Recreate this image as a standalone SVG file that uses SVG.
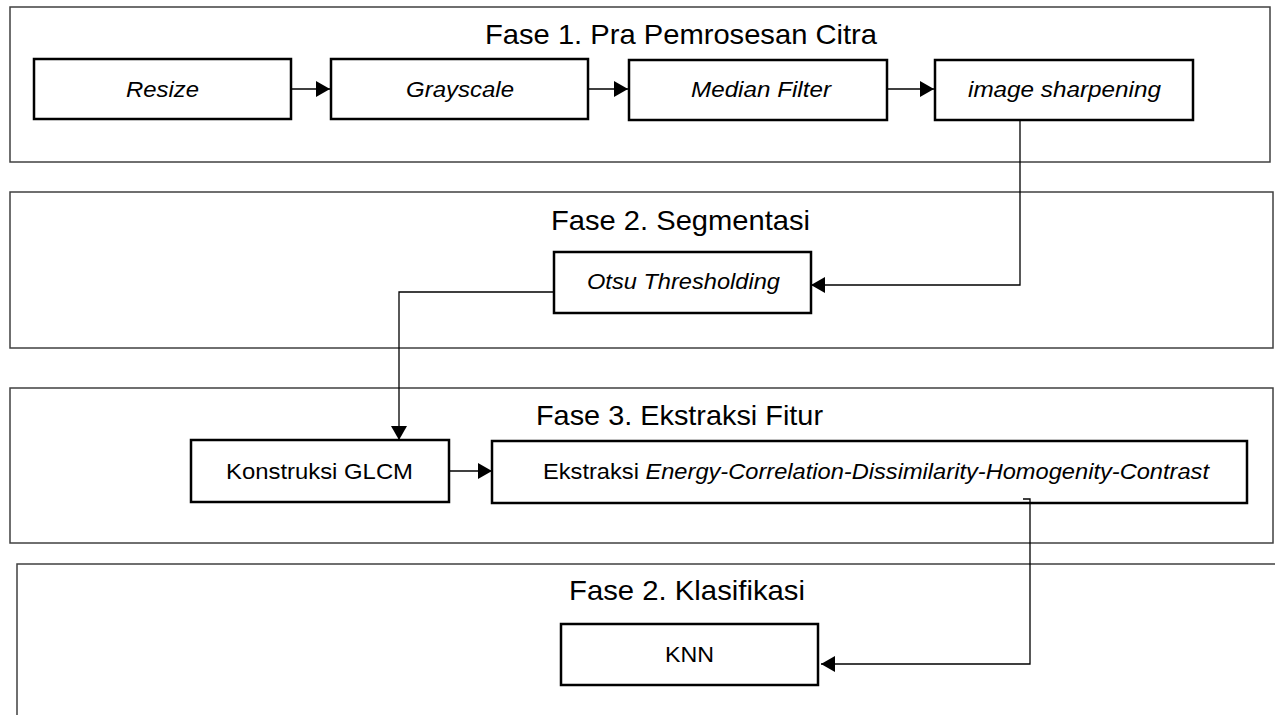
<svg xmlns="http://www.w3.org/2000/svg" width="1275" height="715" viewBox="0 0 1275 715">
<style>
.phase{fill:#fff;stroke:#404040;stroke-width:1.5}
.node{fill:#fff;stroke:#000;stroke-width:2.5}
.title{font-family:"Liberation Sans",Arial,sans-serif;font-size:28px;fill:#000}
.lbl{font-family:"Liberation Sans",Arial,sans-serif;font-size:22px;fill:#000}
.it{font-style:italic}
.conn{fill:none;stroke:#000;stroke-width:1.3}
</style>
<defs>
<marker id="ah" markerUnits="userSpaceOnUse" markerWidth="15" markerHeight="16" refX="14" refY="8" orient="auto">
<path d="M0,0 L14,8 L0,16 Z" fill="#000"/>
</marker>
</defs>
<g id="phase1">
<rect class="phase" x="10" y="7" width="1260" height="155"/>
<text class="title" x="485" y="44" textLength="392" lengthAdjust="spacingAndGlyphs">Fase 1. Pra Pemrosesan Citra</text>
</g>
<g id="phase2">
<rect class="phase" x="10" y="192" width="1263" height="156"/>
<text class="title" x="551" y="230" textLength="259" lengthAdjust="spacingAndGlyphs">Fase 2. Segmentasi</text>
</g>
<g id="phase3">
<rect class="phase" x="10" y="388" width="1263" height="155"/>
<text class="title" x="536" y="425" textLength="287" lengthAdjust="spacingAndGlyphs">Fase 3. Ekstraksi Fitur</text>
</g>
<g id="phase4">
<rect class="phase" x="17" y="564" width="1300" height="200"/>
<text class="title" x="569" y="600" textLength="236" lengthAdjust="spacingAndGlyphs">Fase 2. Klasifikasi</text>
</g>
<g id="resize">
<rect class="node" x="34" y="59" width="257" height="60"/>
<text class="lbl it" x="126" y="97" textLength="73" lengthAdjust="spacingAndGlyphs">Resize</text>
</g>
<g id="grayscale">
<rect class="node" x="331" y="59" width="257" height="60"/>
<text class="lbl it" x="406" y="97" textLength="108" lengthAdjust="spacingAndGlyphs">Grayscale</text>
</g>
<g id="median">
<rect class="node" x="629" y="60" width="258" height="60"/>
<text class="lbl it" x="691" y="97" textLength="140" lengthAdjust="spacingAndGlyphs">Median Filter</text>
</g>
<g id="sharpen">
<rect class="node" x="935" y="60" width="258" height="60"/>
<text class="lbl it" x="968" y="97" textLength="193" lengthAdjust="spacingAndGlyphs">image sharpening</text>
</g>
<g id="otsu">
<rect class="node" x="554" y="252" width="257" height="61"/>
<text class="lbl it" x="587" y="289" textLength="193" lengthAdjust="spacingAndGlyphs">Otsu Thresholding</text>
</g>
<g id="glcm">
<rect class="node" x="191" y="440" width="258" height="62"/>
<text class="lbl" x="226" y="479" textLength="187" lengthAdjust="spacingAndGlyphs">Konstruksi GLCM</text>
</g>
<g id="ekstraksi">
<rect class="node" x="492" y="441" width="755" height="62"/>
<text class="lbl" x="543" y="479" textLength="666" lengthAdjust="spacingAndGlyphs">Ekstraksi <tspan class="it">Energy-Correlation-Dissimilarity-Homogenity-Contrast</tspan></text>
</g>
<g id="knn">
<rect class="node" x="561" y="624" width="257" height="61"/>
<text class="lbl" x="665" y="662" textLength="49" lengthAdjust="spacingAndGlyphs">KNN</text>
</g>
<g id="connectors">
<path class="conn" d="M291,89 H330" marker-end="url(#ah)"/>
<path class="conn" d="M588,89 H628" marker-end="url(#ah)"/>
<path class="conn" d="M887,89 H934" marker-end="url(#ah)"/>
<path class="conn" d="M1020,120 V285 H811" marker-end="url(#ah)"/>
<path class="conn" d="M554,292 H399 V440" marker-end="url(#ah)"/>
<path class="conn" d="M449,471 H492" marker-end="url(#ah)"/>
<path class="conn" d="M1023,499 H1030 V664 H821" marker-end="url(#ah)"/>
</g>
</svg>
